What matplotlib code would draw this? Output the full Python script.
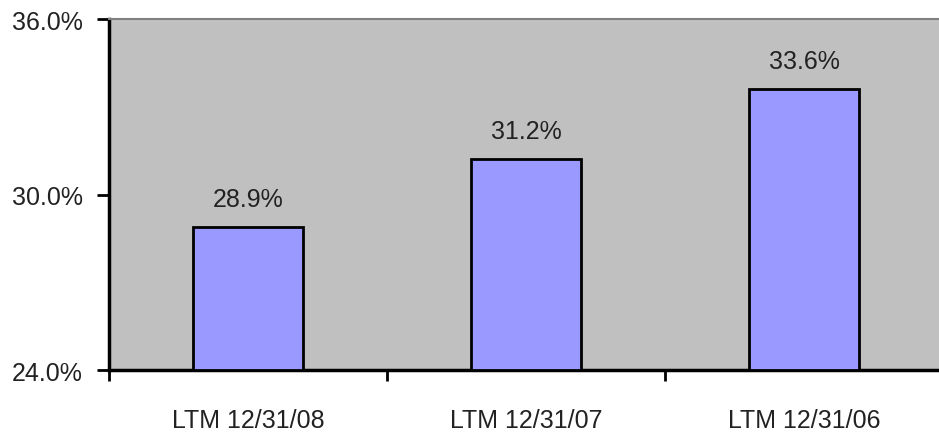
import matplotlib
matplotlib.use("Agg")
import matplotlib.pyplot as plt
from matplotlib.ticker import FixedLocator

categories = ["LTM 12/31/08", "LTM 12/31/07", "LTM 12/31/06"]
values = [28.9, 31.2, 33.6]
ytick_values = [24.0, 30.0, 36.0]

plt.rcParams['font.family'] = ['Liberation Sans', 'DejaVu Sans']
FS = 18

fig = plt.figure(figsize=(9.39, 4.35), dpi=100)
ax = fig.add_axes([0.116, 0.147, 0.884, 0.807])
ax.set_facecolor("#C0C0C0")

x = list(range(len(categories)))
bars = ax.bar(x, [v - 24.0 for v in values], bottom=24.0, width=0.395,
              color="#9999FF", edgecolor="black", linewidth=2, zorder=3)
for xi, v in zip(x, values):
    ax.text(xi, v + 0.55, f"{v:.1f}%", ha="center", va="bottom",
            fontsize=FS, color="#222222", zorder=4)

ax.set_ylim(24.0, 36.0)
ax.set_xlim(-0.5, 2.485)
ax.set_yticks(ytick_values)
ax.set_yticklabels([f"{t:.1f}%" for t in ytick_values], fontsize=FS, color="#222222")
ax.tick_params(axis="y", direction="out", length=9, width=2, pad=10)

ax.xaxis.set_major_locator(FixedLocator([-0.5, 0.5, 1.5]))
ax.set_xticklabels(["", "", ""])
ax.xaxis.set_minor_locator(FixedLocator(x))
ax.set_xticklabels(categories, minor=True, fontsize=FS, color="#222222")
ax.tick_params(axis="x", which="major", direction="out", length=8, width=2)
ax.tick_params(axis="x", which="minor", length=0, pad=27)

for s in ["left", "bottom"]:
    ax.spines[s].set_linewidth(2.5)
    ax.spines[s].set_color("black")
ax.spines["top"].set_color("#808080")
ax.spines["top"].set_linewidth(1.5)
ax.spines["right"].set_visible(False)

fig.savefig("out.png", dpi=100, facecolor="white")
